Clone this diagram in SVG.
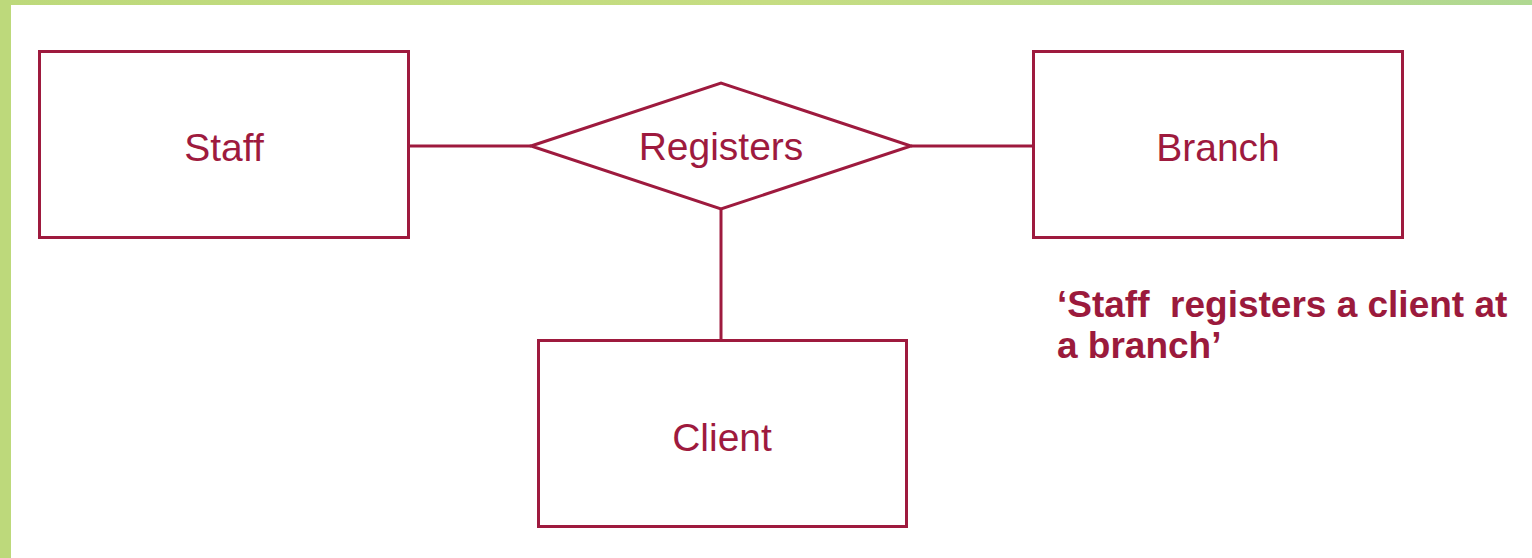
<svg xmlns="http://www.w3.org/2000/svg" width="1532" height="558" viewBox="0 0 1532 558">
<defs>
<linearGradient id="topbar" x1="0" y1="0" x2="1" y2="0">
<stop offset="0" stop-color="#bdd97b"/>
<stop offset="0.5" stop-color="#c6dd82"/>
<stop offset="1" stop-color="#b0d892"/>
</linearGradient>
</defs>
<style>
.shape{fill:#ffffff;stroke:#9e1a3e;stroke-width:3}
.conn{stroke:#9e1a3e;stroke-width:3;fill:none}
.lbl{font-family:"Liberation Sans",Arial,sans-serif;font-size:39px;fill:#9e1a3e;text-anchor:middle}
.note{font-family:"Liberation Sans",Arial,sans-serif;font-size:37px;font-weight:bold;fill:#9b1a3c}
</style>
<rect x="0" y="0" width="1532" height="558" fill="#ffffff"/>
<rect x="0" y="0" width="1532" height="5" fill="url(#topbar)"/>
<rect x="0" y="0" width="11" height="558" fill="#bdd97b"/>
<g id="connectors">
<line class="conn" x1="409" y1="146" x2="531" y2="146"/>
<line class="conn" x1="911" y1="146" x2="1033" y2="146"/>
<line class="conn" x1="721" y1="209" x2="721" y2="341"/>
</g>
<g id="staff">
<rect class="shape" x="39.5" y="51.5" width="369" height="186"/>
<text class="lbl" x="224" y="161">Staff</text>
</g>
<g id="registers">
<polygon class="shape" points="531,146 721,83 911,146 721,209"/>
<text class="lbl" x="721" y="160">Registers</text>
</g>
<g id="branch">
<rect class="shape" x="1033.5" y="51.5" width="369" height="186"/>
<text class="lbl" x="1218" y="161">Branch</text>
</g>
<g id="client">
<rect class="shape" x="538.5" y="340.5" width="368" height="186"/>
<text class="lbl" x="722" y="451">Client</text>
</g>
<g id="note">
<text class="note" x="1057" y="317" xml:space="preserve">‘Staff  registers a client at</text>
<text class="note" x="1057" y="358">a branch’</text>
</g>
</svg>
